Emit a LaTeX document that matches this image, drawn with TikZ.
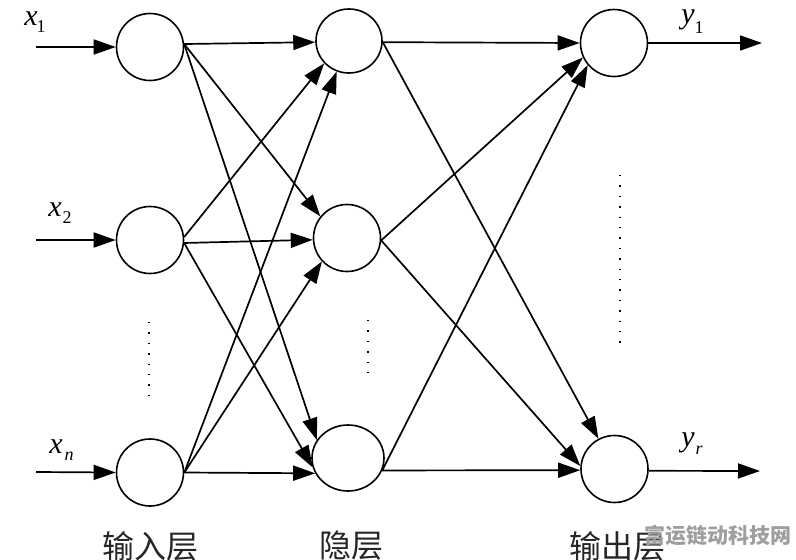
\documentclass[tikz,border=0pt]{standalone}
\usepackage{fontspec}
\setmainfont{Liberation Serif}
\newfontfamily\cjk{Noto Sans CJK SC}
\usetikzlibrary{arrows.meta,shapes.geometric}
\tikzset{
  neuron/.style={ellipse,draw=black,line width=1.6pt,inner sep=0pt,fill=white,minimum width=67pt,minimum height=67pt},
  link/.style={line width=1.7pt,-{Triangle[length=22pt,width=15pt]},shorten >=0pt},
  vdots/.style={line width=1.4pt,dash pattern=on 1.4pt off 9pt},
  sym/.style={inner sep=0pt,font=\fontsize{30}{30}\selectfont\itshape},
  sub/.style={inner sep=0pt,font=\fontsize{18}{18}\selectfont},
  layer/.style={inner sep=0pt,font=\cjk\fontsize{32}{32}\selectfont,text=black!85},
  wmark/.style={inner sep=0pt,font=\cjk\bfseries\fontsize{21}{21}\selectfont,text=black!38},
}
\begin{document}
\begin{tikzpicture}[x=1pt,y=-1pt]
\useasboundingbox (0,0) rectangle (796,560);
\clip (0,0) rectangle (796,560);
\node[neuron] (i1) at (150,47) {};
\node[neuron] (i2) at (150,240) {};
\node[neuron] (i3) at (150,472.5) {};
\node[neuron,minimum width=66pt,minimum height=64pt] (h1) at (349,41) {};
\node[neuron,minimum width=67pt,minimum height=67pt] (h2) at (347,238) {};
\node[neuron,minimum width=72pt,minimum height=66pt] (h3) at (348,458) {};
\node[neuron] (o1) at (614,43) {};
\node[neuron] (o3) at (614.5,469) {};
\coordinate (a1) at (36,47);
\coordinate (a2) at (36,240);
\coordinate (a3) at (36,472);
\coordinate (b1) at (762,43);
\coordinate (b3) at (760,471);
\draw[link] (a1) -- (i1.west);
\draw[link] (a2) -- (i2.west);
\draw[link] (a3) -- (i3.west);
\draw[link] (i1.5) -- (h1.182);
\draw[link] (i1.5) -- (h2.141);
\draw[link] (i1.5) -- (h3.150);
\draw[link] (i2.5) -- (h1.222);
\draw[link] (i2.355) -- (h2.183);
\draw[link] (i2.355) -- (h3.195);
\draw[link] (i3.0) -- (h1.248);
\draw[link] (i3.0) -- (h2.223);
\draw[link] (i3.0) -- (h3.205);
\draw[link] (h1.358) -- (o1.180);
\draw[link] (h1.358) -- (o3.118);
\draw[link] (h2.356) -- (o1.205);
\draw[link] (h2.356) -- (o3.175);
\draw[link] (h3.340) -- (o1.220);
\draw[link] (h3.340) -- (o3.182);
\draw[link] (o1.east) -- (b1);
\draw[link] (o3.357) -- (b3);
\coordinate (d1s) at (149,322); \coordinate (d1e) at (149,396);
\coordinate (d2s) at (368,320); \coordinate (d2e) at (368,380);
\coordinate (d3s) at (620,175); \coordinate (d3e) at (620,346);
\draw[vdots] (d1s) -- (d1e);
\draw[vdots] (d2s) -- (d2e);
\draw[vdots] (d3s) -- (d3e);
\node[sym] (x1) at (31,19) {x};
\node[sub] (x1s) at (41,27) {1};
\node[sym] (x2) at (55,210) {x};
\node[sub] (x2s) at (67,218) {2};
\node[sym] (x3) at (56,447) {x};
\node[sub,font=\fontsize{18}{18}\selectfont\itshape] (x3s) at (69,456) {n};
\node[sym] (y1) at (688,20) {y};
\node[sub] (y1s) at (699,28) {1};
\node[sym] (y3) at (688,443) {y};
\node[sub,font=\fontsize{18}{18}\selectfont\itshape] (y3s) at (699,450) {r};
\node[layer] (l1) at (150,546) {输入层};
\node[layer] (l2) at (351,546) {隐层};
\node[layer] (l3) at (617,546) {输出层};
\node[wmark] (wm) at (718,536) {富运链动科技网};
\end{tikzpicture}
\end{document}
